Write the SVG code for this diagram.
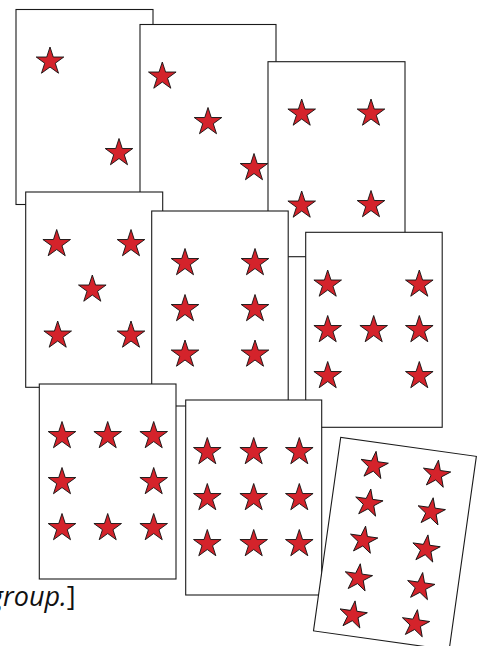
<svg xmlns="http://www.w3.org/2000/svg" xmlns:xlink="http://www.w3.org/1999/xlink" width="485" height="646" viewBox="0 0 485 646">
  <style>
    .card { fill: #ffffff; stroke: #1a1a1a; stroke-width: 1.1; }
    .star { fill: #d4232b; stroke: #111111; stroke-width: 0.9; stroke-linejoin: miter; }
    .note { font-family: "Open Sans", "Noto Sans", "DejaVu Sans", sans-serif; font-size: 27px; fill: #111111; }
  </style>
  <defs>
    <path id="star" class="star" d="M0,-14.5 L3.26,-4.48 L13.79,-4.48 L5.27,1.71 L8.52,11.73 L0,5.54 L-8.52,11.73 L-5.27,1.71 L-13.79,-4.48 L-3.26,-4.48 Z"/>
  </defs>

  <g id="card-2">
    <rect class="card" x="16" y="9.5" width="137" height="195"/>
    <use href="#star" x="50" y="61.5"/>
    <use href="#star" x="119" y="153"/>
  </g>

  <g id="card-3">
    <rect class="card" x="140" y="24.5" width="136" height="195"/>
    <use href="#star" x="162.3" y="76.5"/>
    <use href="#star" x="208" y="122"/>
    <use href="#star" x="254" y="168"/>
  </g>

  <g id="card-4">
    <rect class="card" x="268" y="61.7" width="137" height="195"/>
    <use href="#star" x="301.7" y="113.5"/>
    <use href="#star" x="371" y="113.5"/>
    <use href="#star" x="301.7" y="205.5"/>
    <use href="#star" x="371" y="205"/>
  </g>

  <g id="card-5">
    <rect class="card" x="25.7" y="192" width="137" height="195.3"/>
    <use href="#star" x="56.7" y="244"/>
    <use href="#star" x="131" y="244"/>
    <use href="#star" x="92.3" y="289.5"/>
    <use href="#star" x="57.7" y="335.5"/>
    <use href="#star" x="131" y="335.5"/>
  </g>

  <g id="card-6">
    <rect class="card" x="151.7" y="211" width="136.5" height="195"/>
    <use href="#star" x="185" y="263"/>
    <use href="#star" x="255" y="263"/>
    <use href="#star" x="185" y="309"/>
    <use href="#star" x="255" y="309"/>
    <use href="#star" x="185" y="354.5"/>
    <use href="#star" x="255" y="354.5"/>
  </g>

  <g id="card-7">
    <rect class="card" x="305.7" y="232.3" width="136.5" height="195"/>
    <use href="#star" x="327.7" y="284.5"/>
    <use href="#star" x="419.3" y="284.5"/>
    <use href="#star" x="327.7" y="330"/>
    <use href="#star" x="373.7" y="330"/>
    <use href="#star" x="419.3" y="330"/>
    <use href="#star" x="327.7" y="376"/>
    <use href="#star" x="419.3" y="376"/>
  </g>

  <g id="card-8">
    <rect class="card" x="39.3" y="384" width="136.7" height="195"/>
    <use href="#star" x="62" y="436"/>
    <use href="#star" x="107.7" y="436"/>
    <use href="#star" x="153.7" y="436"/>
    <use href="#star" x="62" y="482"/>
    <use href="#star" x="153.7" y="482"/>
    <use href="#star" x="62" y="528"/>
    <use href="#star" x="107.7" y="528"/>
    <use href="#star" x="153.7" y="528"/>
  </g>

  <g id="card-9">
    <rect class="card" x="185.7" y="400" width="136" height="195"/>
    <use href="#star" x="207.3" y="452"/>
    <use href="#star" x="253.7" y="452"/>
    <use href="#star" x="299.3" y="452"/>
    <use href="#star" x="207.3" y="498"/>
    <use href="#star" x="253.7" y="498"/>
    <use href="#star" x="299.3" y="498"/>
    <use href="#star" x="207.3" y="544"/>
    <use href="#star" x="253.7" y="544"/>
    <use href="#star" x="299.3" y="544"/>
  </g>

  <g id="card-10" transform="translate(340.7,437.3) rotate(8)">
    <rect class="card" x="0" y="0" width="137" height="195.5"/>
    <use href="#star" x="37" y="23.5"/>
    <use href="#star" x="100" y="23.5"/>
    <use href="#star" x="37" y="61.5"/>
    <use href="#star" x="100" y="61.5"/>
    <use href="#star" x="37" y="99"/>
    <use href="#star" x="100" y="99"/>
    <use href="#star" x="37" y="137"/>
    <use href="#star" x="100" y="137"/>
    <use href="#star" x="37" y="174.5"/>
    <use href="#star" x="100" y="174.5"/>
  </g>

  <g id="caption">
    <text class="note" x="-11" y="606"><tspan font-style="italic">group.</tspan>]</text>
  </g>
</svg>
